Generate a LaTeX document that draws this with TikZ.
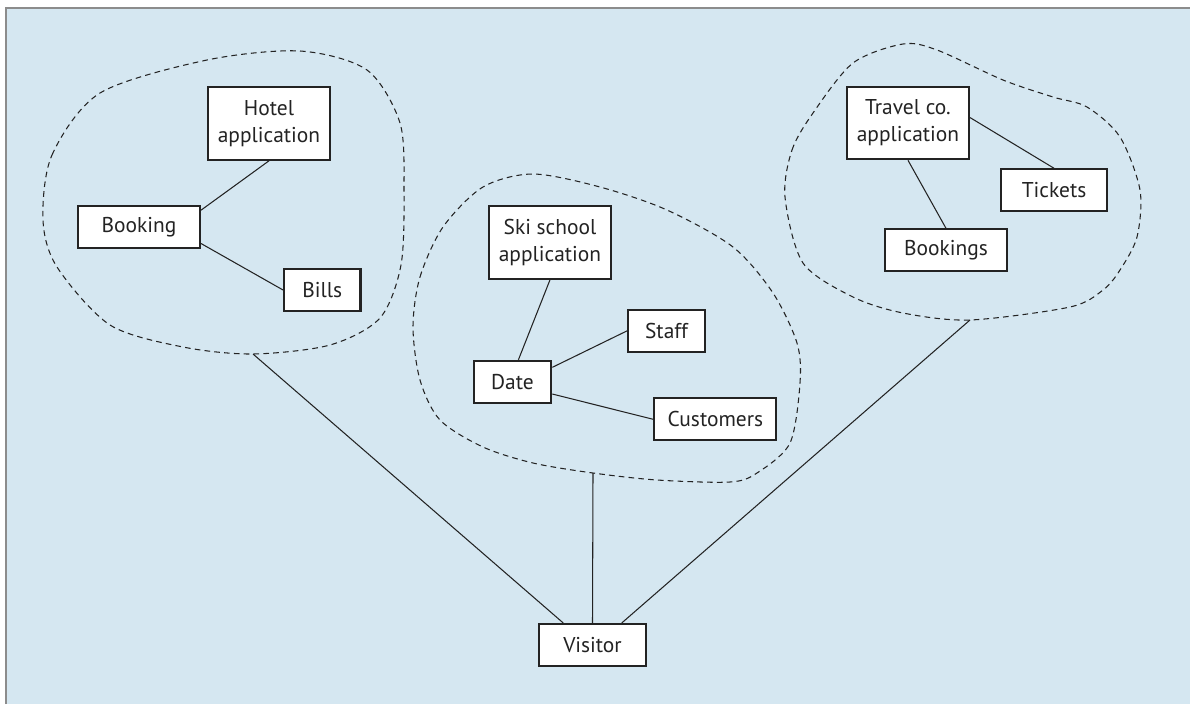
\documentclass[tikz,border=0pt]{standalone}
\usepackage{xcolor}
\usepackage{fontspec}
\setmainfont{PT Sans}
\usepackage{tikz}
\usetikzlibrary{positioning, calc}

\definecolor{panelblue}{RGB}{213,231,241}
\definecolor{framegray}{RGB}{140,140,140}
\definecolor{inkdark}{RGB}{35,35,35}

\begin{document}
\begin{tikzpicture}[
  x=0.02cm, y=-0.02cm,
  box/.style={rectangle, draw=inkdark, line width=1.2pt, fill=white, text=inkdark,
    minimum width=2.44cm, minimum height=0.84cm, align=center, inner sep=2pt,
    font=\fontsize{12.2}{15.5}\selectfont},
  twoline/.style={minimum height=1.45cm},
  narrow/.style={minimum width=1.53cm},
  link/.style={draw=inkdark, line width=0.6pt},
  cloud/.style={draw=inkdark, line width=0.6pt, dash pattern=on 3.2pt off 2.4pt}
]
  % panel
  \useasboundingbox (0,0) rectangle (1190,704);
  \fill[panelblue] (6,8) rectangle (1190,704);
  \draw[framegray, line width=1.4pt] (6,704) -- (6,8) -- (1190,8);

  % dashed groups
  \draw[cloud] plot[smooth cycle] coordinates {(43,220) (52,155) (100,93) (207,60) (300,51)
    (367,70) (400,123) (404,190) (401,265) (380,318) (330,345) (253,354) (183,347) (110,325) (57,267)};
  \draw[cloud] plot[smooth cycle] coordinates {(413,327) (420,277) (443,227) (483,187) (533,174)
    (600,187) (667,210) (733,247) (773,293) (797,343) (800,383) (790,443) (757,473) (730,482)
    (657,480) (593,473) (533,463) (483,447) (440,420) (420,380)};
  \draw[cloud] plot[smooth cycle] coordinates {(785,197) (792,150) (813,113) (853,63) (903,44)
    (937,50) (1003,80) (1053,97) (1087,107) (1120,137) (1140,190) (1137,237) (1120,270) (1103,290)
    (1070,307) (970,320) (903,313) (853,297) (803,263)};
  \coordinate (hotelgroup) at (253,354);
  \coordinate (skigroup) at (593,473);
  \coordinate (travelgroup) at (970,320);

  % hotel
  \node[box, twoline] (hotel) at (269,123.5) {Hotel\\application};
  \node[box, below left=0.88cm and 0.12cm of hotel] (booking) {Booking};
  \node[box, narrow, below right=0.38cm and 1.64cm of booking] (bills) {Bills};
  \draw[link] (hotel.south) -- (booking.15);
  \draw[link] (booking.-15) -- (bills.west);

  % ski school
  \node[box, twoline] (ski) at (550,242.5) {Ski school\\application};
  \node[box, minimum width=1.55cm, below=1.6cm of ski, xshift=-0.75cm] (date) {Date};
  \node[box, narrow, above right=0.14cm and 1.5cm of date] (staff) {Staff};
  \node[box, right=2.02cm of date, yshift=-0.75cm] (customers) {Customers};
  \draw[link] (ski.south) -- (date.75);
  \draw[link] (date.20) -- (staff.west);
  \draw[link] (date.-17) -- (customers.west);

  % travel company
  \node[box, twoline] (travel) at (908,123) {Travel co.\\application};
  \node[box, minimum width=2.12cm, below right=0.16cm and 0.6cm of travel] (tickets) {Tickets};
  \node[box, below=1.36cm of travel, xshift=0.76cm] (bookings) {Bookings};
  \draw[link] (travel.5) -- (tickets.north);
  \draw[link] (travel.south) -- (bookings.north);

  % visitor
  \node[box, minimum width=2.14cm] (visitor) at (592.5,645) {Visitor};
  \draw[link] (hotelgroup) -- (visitor.143);
  \draw[link] (skigroup) -- (visitor.north);
  \draw[link] (travelgroup) -- (visitor.37);
\end{tikzpicture}
\end{document}
